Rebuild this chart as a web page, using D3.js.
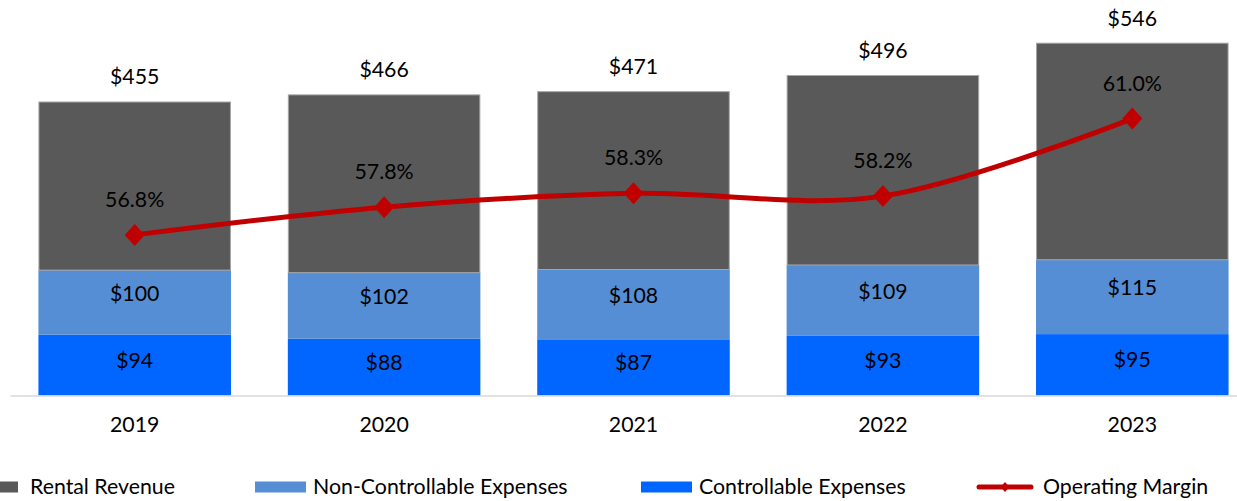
<!DOCTYPE html>
<html><head><meta charset="utf-8">
<script src="https://cdn.jsdelivr.net/npm/d3@7"></script>
<style>
html,body{margin:0;padding:0;background:#fff;}
svg{display:block;font-family:Lato,"Open Sans",sans-serif;}
</style></head>
<body><svg id="c" width="1237" height="501"></svg>
<script>
const years = ["2019","2020","2021","2022","2023"];
const rentalRevenue = [455,466,471,496,546];
const nonControllable = [100,102,108,109,115];
const controllable = [94,88,87,93,95];
const operatingMargin = [56.8,57.8,58.3,58.2,61.0];
const legendLabels = ["Rental Revenue","Non-Controllable Expenses","Controllable Expenses","Operating Margin"];

const colors = {rent:"#595959", nonc:"#558ED5", ctrl:"#0066FF", margin:"#C00000"};
const svg = d3.select("#c");
const fs = 21.3;

const x = d3.scaleBand().domain(years).range([10,1257]).paddingInner(0.228).paddingOuter(0.114);
const y = d3.scaleLinear().domain([0,600]).range([395.5,7.8]);
const y2 = d3.scaleLinear().domain([51,65]).range([395.5,7.8]);

const data = years.map((yr,i)=>({yr, ctrl:controllable[i], nonc:nonControllable[i], total:rentalRevenue[i], m:operatingMargin[i]}));

const g = svg.append("g");
data.forEach(d=>{
  const x0 = x(d.yr), w = x.bandwidth();
  g.append("rect").attr("x",x0).attr("width",w).attr("y",y(d.ctrl)).attr("height",y(0)-y(d.ctrl)).attr("fill",colors.ctrl);
  g.append("rect").attr("x",x0).attr("width",w).attr("y",y(d.ctrl+d.nonc)).attr("height",y(d.ctrl)-y(d.ctrl+d.nonc)).attr("fill",colors.nonc);
  g.append("rect").attr("x",x0+0.5).attr("width",w-1).attr("y",y(d.total)+0.5).attr("height",y(d.ctrl+d.nonc)-y(d.total)-0.5).attr("fill",colors.rent).attr("stroke","#a6a6a6").attr("stroke-width",1);
});

const xAxis = d3.axisBottom(x).tickSize(0).tickPadding(0);
const ax = svg.append("g").attr("transform","translate(0,395.5)").call(xAxis);
ax.select(".domain").attr("stroke","#d9d9d9").attr("stroke-width",1.5);
ax.selectAll("text").attr("font-size",fs).attr("fill","#000").attr("font-family","Lato").attr("dy",0).attr("y",36);

const lab = svg.append("g").attr("font-size",fs).attr("text-anchor","middle").attr("fill","#000");
data.forEach(d=>{
  const cx = x(d.yr)+x.bandwidth()/2;
  lab.append("text").attr("x",cx).attr("y",y(d.total)-17).text("$"+d.total);
  const cN = (y(d.ctrl)+y(d.ctrl+d.nonc))/2;
  lab.append("text").attr("x",cx).attr("y",cN-1.5).text("$"+d.nonc);
  const cC = (y(0)+y(d.ctrl))/2;
  lab.append("text").attr("x",cx).attr("y",cC+2.5).text("$"+d.ctrl);
});

const line = d3.line().x(d=>x(d.yr)+x.bandwidth()/2).y(d=>y2(d.m)).curve(d3.curveCardinal.tension(0));
svg.append("path").datum(data).attr("d",line).attr("fill","none").attr("stroke",colors.margin).attr("stroke-width",5);
const diamond = "M0,-11L10,0L0,11L-10,0Z";
data.forEach(d=>{
  const cx = x(d.yr)+x.bandwidth()/2, cy=y2(d.m);
  svg.append("path").attr("d",diamond).attr("transform",`translate(${cx},${cy})`).attr("fill",colors.margin);
  lab.append("text").attr("x",cx).attr("y",cy-28).text(d.m.toFixed(1)+"%");
});

const leg = svg.append("g").attr("font-size",fs).attr("fill","#000");
const ly = 487;
leg.append("rect").attr("x",-33).attr("y",ly-5.5).attr("width",51).attr("height",11).attr("fill",colors.rent);
leg.append("text").attr("x",30).attr("y",ly+7).text(legendLabels[0]);
leg.append("rect").attr("x",255).attr("y",ly-5.5).attr("width",51).attr("height",11).attr("fill",colors.nonc);
leg.append("text").attr("x",313).attr("y",ly+7).text(legendLabels[1]);
leg.append("rect").attr("x",641).attr("y",ly-5.5).attr("width",51).attr("height",11).attr("fill",colors.ctrl);
leg.append("text").attr("x",699).attr("y",ly+7).text(legendLabels[2]);
leg.append("line").attr("x1",979).attr("x2",1031).attr("y1",ly).attr("y2",ly).attr("stroke",colors.margin).attr("stroke-width",5).attr("stroke-linecap","round");
leg.append("path").attr("d","M0,-5L4.5,0L0,5L-4.5,0Z").attr("transform",`translate(1005,${ly})`).attr("fill",colors.margin);
leg.append("text").attr("x",1043).attr("y",ly+7).text(legendLabels[3]);
</script></body></html>
